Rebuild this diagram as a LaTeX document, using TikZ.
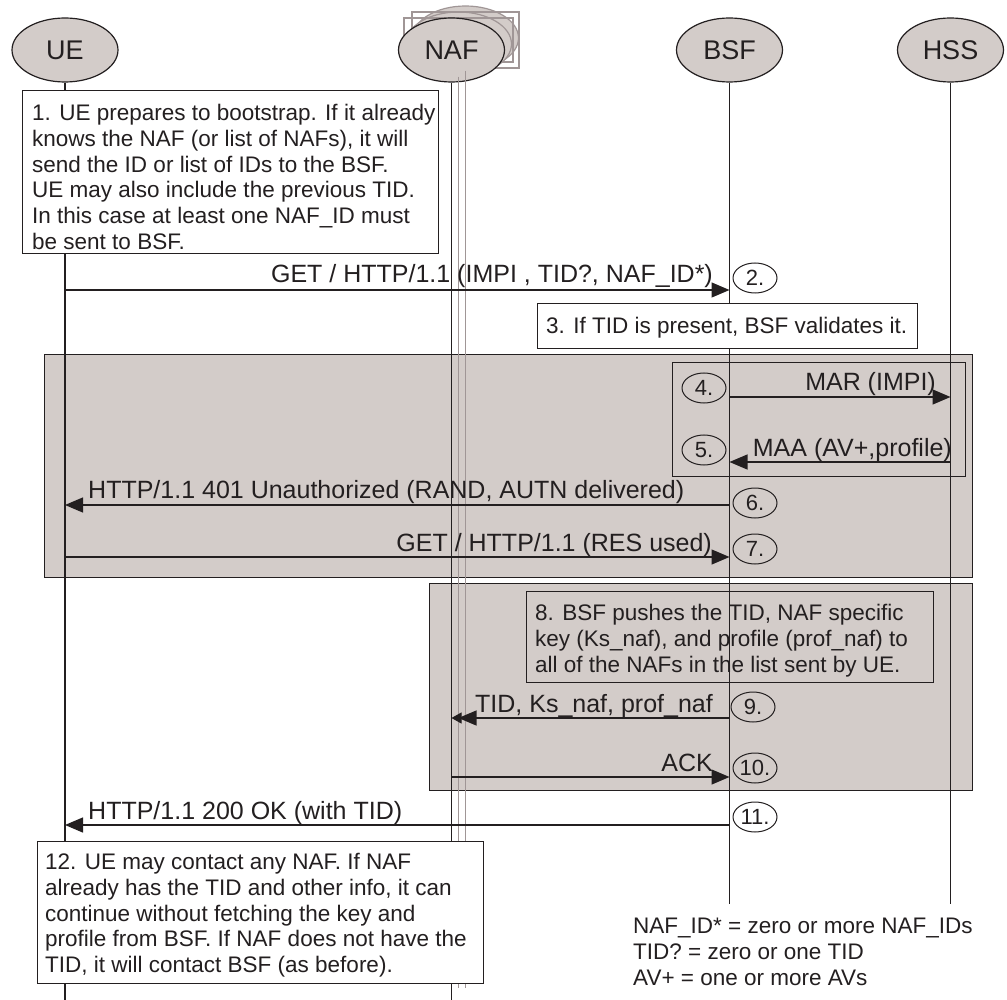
\documentclass[tikz,border=0pt]{standalone}
\usepackage{fontspec}
\setmainfont{Liberation Sans}
\usetikzlibrary{arrows.meta,shapes.geometric}

\definecolor{ink}{RGB}{35,31,32}
\definecolor{shade}{RGB}{211,204,201}
\definecolor{ghost}{RGB}{160,150,150}

\begin{document}
\begin{tikzpicture}[x=1pt,y=-1pt,
  actor/.style={ellipse, draw=ink, fill=shade, line width=1.2pt,
    minimum width=106pt, minimum height=64pt, inner sep=0pt,
    text=ink, font=\fontsize{27}{30}\selectfont},
  ghostactor/.style={actor, draw=ghost},
  ghostline/.style={draw=ghost, line width=1.1pt},
  life/.style={draw=ink, line width=1.2pt},
  group/.style={rectangle, draw=ink, fill=shade, line width=1.3pt, inner sep=0pt, anchor=north west},
  frame/.style={rectangle, draw=ink, line width=1.2pt, inner sep=0pt, anchor=north west},
  note/.style={rectangle, draw=ink, fill=white, line width=1.3pt, inner sep=0pt, anchor=north west},
  notetext/.style={anchor=north west, inner sep=0pt, align=left, text=ink,
    font=\fontsize{22.5}{25.8}\selectfont},
  msg/.style={draw=ink, line width=1.3pt, -{Triangle[length=18pt,width=15pt]}},
  lbl/.style={inner sep=0pt, text=ink, font=\fontsize{25}{28}\selectfont},
  stepno/.style={ellipse, draw=ink, line width=1pt, minimum width=44pt, minimum height=30pt,
    inner sep=0pt, text=ink, font=\fontsize{22}{24}\selectfont},
]
\useasboundingbox (0,0) rectangle (1007,1000);

% stacked NAF instances behind the main NAF
\node[ghostactor] (naf3) at (465.5,38) {};
\node[ghostactor] (naf2) at (458.5,44) {};
\draw[ghostline] (404,18) rectangle (513,62);
\draw[ghostline] (412,12) rectangle (519,68);

% participants
\node[actor] (ue)  at (65,50)    {UE};
\node[actor] (naf) at (451.5,50) {NAF};
\node[actor] (bsf) at (729.5,50) {BSF};
\node[actor] (hss) at (950.5,50) {HSS};

% shaded phases and framed sub-steps
\node[group, minimum width=928pt, minimum height=223pt] (g1) at (44,354) {};
\node[group, minimum width=543pt, minimum height=207pt] (g2) at (429,583) {};
\node[frame, minimum width=293pt, minimum height=114pt] (f45) at (672,362) {};
\node[frame, minimum width=407pt, minimum height=91pt] (f8) at (526,591) {};

% lifelines
\coordinate (ueEnd)   at (65,1000);
\coordinate (nafEnd)  at (451.5,1000);
\coordinate (naf2End) at (458.5,988);
\coordinate (naf3End) at (465.5,988);
\coordinate (bsfEnd)  at (729.5,904);
\coordinate (hssEnd)  at (950.5,904);
\draw[ghostline] (naf3) -- (naf3End);
\draw[ghostline] (naf2) -- (naf2End);
\draw[life] (ue)  -- (ueEnd);
\draw[life] (naf) -- (nafEnd);
\draw[life] (bsf) -- (bsfEnd);
\draw[life] (hss) -- (hssEnd);

% notes
\node[note, minimum width=416pt, minimum height=163pt] (n1) at (22,90) {};
\node[notetext] (t1) at (32,104) {1. UE prepares to bootstrap. If it already\\
knows the NAF (or list of NAFs), it will\\
send the ID or list of IDs to the BSF.\\
UE may also include the previous TID.\\
In this case at least one NAF\_ID must\\
be sent to BSF.};

\node[note, minimum width=380pt, minimum height=45pt] (n3) at (537,303) {};
\node[notetext] (t3) at (546,317) {3. If TID is present, BSF validates it.};

\node[notetext] (t8) at (535,604) {8. BSF pushes the TID, NAF specific\\
key (Ks\_naf), and profile (prof\_naf) to\\
all of the NAFs in the list sent by UE.};

\node[note, minimum width=446pt, minimum height=142pt] (n12) at (37,841) {};
\node[notetext] (t12) at (45,853) {12. UE may contact any NAF. If NAF\\
already has the TID and other info, it can\\
continue without fetching the key and\\
profile from BSF. If NAF does not have the\\
TID, it will contact BSF (as before).};

\node[notetext] (legend) at (633,918) {NAF\_ID* = zero or more NAF\_IDs\\
TID? = zero or one TID\\
AV+ = one or more AVs};

% message anchor points on the lifelines
\coordinate (ue2)   at (65,290);    \coordinate (bsf2)  at (729.5,290);
\coordinate (bsf4)  at (729.5,397); \coordinate (hss4)  at (950.5,397);
\coordinate (hss5)  at (950.5,462); \coordinate (bsf5)  at (729.5,462);
\coordinate (bsf6)  at (729.5,505); \coordinate (ue6)   at (65,505);
\coordinate (ue7)   at (65,557);    \coordinate (bsf7)  at (729.5,557);
\coordinate (bsf9)  at (729.5,718); \coordinate (naf9)  at (451.5,718);
\coordinate (nafb9) at (458.5,718);
\coordinate (naf10) at (451.5,777); \coordinate (bsf10) at (729.5,777);
\coordinate (bsf11) at (729.5,825); \coordinate (ue11)  at (65,825);

% messages
\draw[msg] (ue2) -- (bsf2);
\node[lbl, anchor=base east] (l2) at (713,283) {GET / HTTP/1.1 (IMPI , TID?, NAF\_ID*)};
\node[stepno] (s2) at (755,278) {2.};

\node[stepno] (s4) at (704,388) {4.};
\draw[msg] (bsf4) -- (hss4);
\node[lbl, anchor=base east] (l4) at (936,391) {MAR (IMPI)};

\node[stepno] (s5) at (704,450) {5.};
\draw[msg] (hss5) -- (bsf5);
\node[lbl, anchor=base east] (l5) at (952,456) {MAA (AV+,profile)};

\draw[msg] (bsf6) -- (ue6);
\node[lbl, anchor=base west] (l6) at (88,498) {HTTP/1.1 401 Unauthorized (RAND, AUTN delivered)};
\node[stepno] (s6) at (755,503) {6.};

\draw[msg] (ue7) -- (bsf7);
\node[lbl, anchor=base east] (l7) at (712,551) {GET / HTTP/1.1 (RES used)};
\node[stepno] (s7) at (755,549) {7.};

\draw[msg] (bsf9) -- (nafb9);
\draw[draw=ink, line width=1pt, -{Triangle[length=10pt,width=11pt]}] (nafb9) -- (naf9);
\node[lbl, anchor=base east] (l9) at (713,712) {TID, Ks\_naf, prof\_naf};
\node[stepno] (s9) at (753,707) {9.};

\draw[msg] (naf10) -- (bsf10);
\node[lbl, anchor=base east] (l10) at (713,771) {ACK};
\node[stepno] (s10) at (755,768) {10.};

\draw[msg] (bsf11) -- (ue11);
\node[lbl, anchor=base west] (l11) at (88,819) {HTTP/1.1 200 OK (with TID)};
\node[stepno] (s11) at (755,817) {11.};
\end{tikzpicture}
\end{document}
